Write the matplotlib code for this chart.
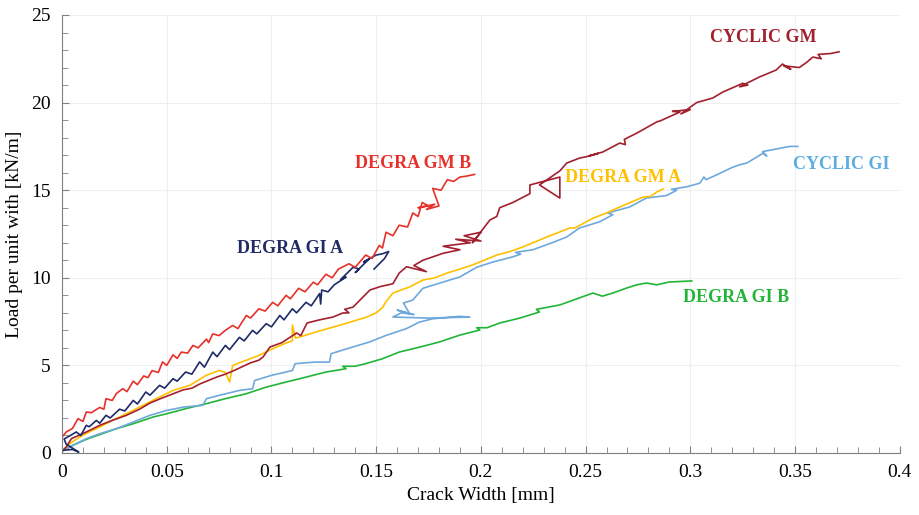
import numpy as np
import matplotlib
matplotlib.use("Agg")
import matplotlib.pyplot as plt
from matplotlib.ticker import MultipleLocator, FormatStrFormatter

plt.rcParams['font.family'] = ['Liberation Serif', 'DejaVu Serif']

# crack width [mm] / load per unit width [kN/m]
gmb_x = [0, 0.002, 0.005, 0.0076, 0.010, 0.0116, 0.014, 0.018, 0.020, 0.021, 0.024, 0.026, 0.029,
         0.031, 0.034, 0.036, 0.039, 0.041, 0.043, 0.046, 0.048, 0.050, 0.053, 0.055, 0.057, 0.060,
         0.0625, 0.065, 0.069, 0.070, 0.072, 0.075, 0.078, 0.0815, 0.084, 0.088, 0.090, 0.094, 0.097,
         0.1006, 0.103, 0.107, 0.109, 0.113, 0.116, 0.120, 0.122, 0.126, 0.129, 0.132, 0.137, 0.140,
         0.145, 0.148, 0.1515, 0.153, 0.1547, 0.158, 0.161, 0.165, 0.1675, 0.170, 0.172, 0.175, 0.170,
         0.178, 0.174, 0.180, 0.177, 0.181, 0.184, 0.187, 0.190, 0.193, 0.197]
gmb_y = [0.9, 1.2, 1.4, 1.96, 1.8, 2.34, 2.3, 2.6, 2.5, 3.1, 3.0, 3.4, 3.67,
         3.5, 4.1, 3.9, 4.4, 4.3, 4.7, 4.6, 5.2, 5.0, 5.6, 5.4, 5.76, 5.7,
         6.14, 6.0, 6.5, 6.3, 6.8, 6.7, 7.0, 7.28, 7.1, 7.85, 7.7, 8.23, 8.1,
         8.6, 8.4, 9.0, 8.8, 9.4, 9.2, 9.75, 9.6, 10.2, 10.0, 10.5, 10.8, 10.6,
         11.3, 11.1, 11.85, 11.7, 12.6, 12.4, 13.0, 12.9, 13.7, 13.5, 14.3, 14.1, 14.0,
         14.2, 13.9, 14.1, 15.1, 15.0, 15.6, 15.5, 15.75, 15.8, 15.9]

gia_x = [0, 0.005, 0.008, 0.002, 0.001, 0.004, 0.0068, 0.009, 0.0116, 0.013, 0.0164, 0.018, 0.021,
         0.023, 0.0275, 0.030, 0.034, 0.036, 0.040, 0.042, 0.0466, 0.049, 0.053, 0.055, 0.059, 0.062,
         0.0657, 0.068, 0.072, 0.074, 0.078, 0.080, 0.0847, 0.087, 0.091, 0.093, 0.0975, 0.100, 0.104,
         0.106, 0.110, 0.112, 0.1165, 0.119, 0.123, 0.1235, 0.124, 0.127, 0.130, 0.1356, 0.133, 0.139,
         0.142, 0.140, 0.1467, 0.144, 0.150, 0.153, 0.156, 0.154, 0.149]
gia_y = [0.15, 0.2, 0.05, 0.5, 0.8, 1.0, 1.2, 1.0, 1.58, 1.5, 1.86, 1.7, 2.15,
         2.0, 2.5, 2.4, 3.0, 2.8, 3.48, 3.3, 3.86, 3.7, 4.24, 4.1, 4.62, 4.5,
         5.2, 4.9, 5.76, 5.5, 6.14, 5.9, 6.6, 6.4, 7.0, 6.8, 7.38, 7.2, 7.85,
         7.6, 8.23, 8.0, 8.6, 8.4, 9.1, 8.5, 9.3, 9.2, 9.6, 10.04, 9.9, 10.6,
         10.5, 10.3, 11.08, 10.9, 11.3, 11.37, 11.5, 11.1, 10.5]

cgm_x = [0, 0.002, 0.0045, 0.0116, 0.018, 0.024, 0.0307, 0.037, 0.042, 0.047,
         0.0578, 0.062, 0.066, 0.074, 0.078, 0.082, 0.0897, 0.094, 0.096, 0.0993,
         0.105, 0.112, 0.114, 0.117, 0.123, 0.1294, 0.134, 0.137, 0.135, 0.139,
         0.147, 0.152, 0.158, 0.161, 0.1645, 0.174, 0.168, 0.1723, 0.182, 0.19,
         0.182, 0.195, 0.188, 0.2, 0.192, 0.2, 0.196, 0.2043, 0.2076, 0.209,
         0.2153, 0.2234, 0.2234, 0.2377, 0.2377, 0.228, 0.2377, 0.241, 0.2473, 0.250,
         0.256, 0.2515, 0.2582, 0.2663, 0.2690, 0.2685, 0.2745, 0.284, 0.2855, 0.295,
         0.2915, 0.300, 0.2955, 0.303, 0.3107, 0.3155, 0.325, 0.3275, 0.3235, 0.333,
         0.341, 0.344, 0.348, 0.3445, 0.352, 0.3556, 0.3585, 0.3625, 0.361, 0.367,
         0.371]
cgm_y = [0.1, 0.34, 0.82, 1.2, 1.58, 1.86, 2.15, 2.5, 2.85, 3.1,
         3.6, 3.7, 3.95, 4.34, 4.5, 4.7, 5.13, 5.3, 5.48, 6.05,
         6.3, 6.85, 6.7, 7.42, 7.6, 7.76, 7.99, 8.0, 8.2, 8.33,
         9.3, 9.5, 9.66, 10.27, 10.63, 10.35, 10.7, 11.0, 11.4, 11.6,
         11.8, 12.0, 12.2, 12.1, 12.4, 12.6, 12.0, 13.3, 13.5, 14.0,
         14.3, 14.8, 15.3, 15.75, 14.55, 15.3, 16.1, 16.55, 16.84, 16.9,
         17.1, 16.95, 17.18, 17.69, 17.6, 17.9, 18.26, 18.9, 18.95, 19.46,
         19.5, 19.6, 19.35, 20.0, 20.26, 20.6, 21.1, 21.0, 20.9, 21.46,
         21.86, 22.2, 21.9, 22.1, 22.0, 22.3, 22.6, 22.5, 22.75, 22.8,
         22.9]

gma_x = [0, 0.0037, 0.0084, 0.013, 0.018, 0.024, 0.0307, 0.037, 0.045, 0.053,
         0.061, 0.0688, 0.075, 0.078, 0.080, 0.0815, 0.0879, 0.094, 0.1006, 0.107,
         0.110, 0.110, 0.1115, 0.113, 0.121, 0.129, 0.137, 0.145, 0.150, 0.153,
         0.1545, 0.158, 0.166, 0.1723, 0.178, 0.1838, 0.190, 0.196, 0.2076, 0.214,
         0.22, 0.2315, 0.2425, 0.245, 0.2535, 0.260, 0.2663, 0.2773, 0.281, 0.284,
         0.287]
gma_y = [0.1, 0.53, 0.91, 1.2, 1.48, 1.86, 2.24, 2.62, 3.1, 3.57,
         3.86, 4.43, 4.71, 4.6, 4.05, 5.0, 5.29, 5.57, 5.95, 6.28,
         6.4, 7.3, 6.56, 6.6, 6.9, 7.17, 7.45, 7.74, 8.0, 8.3,
         8.6, 9.13, 9.48, 9.87, 10.0, 10.27, 10.5, 10.73, 11.3, 11.5,
         11.76, 12.33, 12.84, 12.85, 13.4, 13.7, 14.04, 14.6, 14.65, 14.9,
         15.07]

cgi_x = [0, 0.0052, 0.0116, 0.018, 0.026, 0.034, 0.042, 0.05, 0.058, 0.0672, 0.069, 0.075, 0.0847,
         0.091, 0.092, 0.1, 0.11, 0.1113, 0.121, 0.1277, 0.1285, 0.1388, 0.1467, 0.1547, 0.1643,
         0.1706, 0.177, 0.1897, 0.1947, 0.175, 0.158, 0.162, 0.168, 0.160, 0.166, 0.163, 0.1675,
         0.1723, 0.1804, 0.19, 0.198, 0.2057, 0.2153, 0.219, 0.2165, 0.2248, 0.234, 0.241, 0.247,
         0.2568, 0.263, 0.2605, 0.271, 0.279, 0.2888, 0.2935, 0.291, 0.2985, 0.3045, 0.3065, 0.3075,
         0.313, 0.32, 0.3235, 0.327, 0.3346, 0.3365, 0.3345, 0.3475, 0.3513]
cgi_y = [0.1, 0.44, 0.82, 1.1, 1.39, 1.77, 2.15, 2.43, 2.62, 2.72, 3.1, 3.29, 3.57,
         3.67, 4.14, 4.43, 4.71, 5.1, 5.19, 5.19, 5.67, 6.05, 6.33, 6.71, 7.09,
         7.47, 7.66, 7.8, 7.76, 7.7, 7.76, 8.0, 7.9, 8.16, 7.95, 8.56, 8.73,
         9.4, 9.7, 10.05, 10.6, 10.9, 11.2, 11.35, 11.45, 11.6, 12.0, 12.33, 12.84,
         13.2, 13.6, 13.7, 14.04, 14.55, 14.7, 15.0, 15.05, 15.2, 15.4, 15.75, 15.6,
         15.9, 16.3, 16.45, 16.55, 17.1, 16.95, 17.2, 17.5, 17.5]

gib_x = [0, 0.0052, 0.0116, 0.018, 0.026, 0.034, 0.0434, 0.05, 0.059, 0.0688, 0.078, 0.0879, 0.0975,
         0.107, 0.1165, 0.126, 0.1356, 0.134, 0.14, 0.145, 0.153, 0.161, 0.171, 0.18, 0.19, 0.1995,
         0.198, 0.203, 0.209, 0.2186, 0.228, 0.2265, 0.2377, 0.247, 0.2535, 0.258, 0.263, 0.2697,
         0.2745, 0.279, 0.284, 0.29, 0.3007]
gib_y = [0.1, 0.44, 0.78, 1.05, 1.39, 1.67, 2.05, 2.24, 2.53, 2.81, 3.1, 3.38, 3.76,
         4.05, 4.33, 4.62, 4.81, 4.95, 4.95, 5.1, 5.38, 5.76, 6.05, 6.33, 6.73, 7.02,
         7.15, 7.15, 7.42, 7.7, 8.05, 8.2, 8.45, 8.85, 9.13, 8.95, 9.13, 9.42,
         9.6, 9.7, 9.6, 9.76, 9.82]

series = [
    (gib_x, gib_y, '#21B537'),
    (cgi_x, cgi_y, '#6FA8DC'),
    (gma_x, gma_y, '#FFC000'),
    (cgm_x, cgm_y, '#A3202F'),
    (gia_x, gia_y, '#1F2A66'),
    (gmb_x, gmb_y, '#E8302A'),
]

labels = [
    ('DEGRA GM B', 0.1675, 16.55, '#E8302A'),
    ('DEGRA GI A', 0.109, 11.7, '#1F2A66'),
    ('CYCLIC GM', 0.3346, 23.7, '#A3202F'),
    ('DEGRA GM A', 0.268, 15.75, '#FFC000'),
    ('CYCLIC GI', 0.372, 16.44, '#5DADE2'),
    ('DEGRA GI B', 0.3217, 8.9, '#21B537'),
]

fig = plt.figure(figsize=(9.2, 5.15), dpi=100)
ax = fig.add_axes([0.0674, 0.1204, 0.9106, 0.8505])

for xs, ys, col in series:
    ax.plot(xs, ys, color=col, lw=1.2)

for txt, lx, ly, col in labels:
    ax.text(lx, ly, txt, color=col, fontsize=13, fontweight='bold', ha='center', va='center')

ax.set_xlim(0, 0.4)
ax.set_ylim(0, 25)
ax.xaxis.set_major_locator(MultipleLocator(0.05))
ax.xaxis.set_minor_locator(MultipleLocator(0.01))
ax.yaxis.set_major_locator(MultipleLocator(5))
ax.yaxis.set_minor_locator(MultipleLocator(1))
ax.xaxis.set_major_formatter(FormatStrFormatter('%g'))
ax.grid(True, which='major', color='#EFEFEF', lw=0.8)
ax.set_axisbelow(True)
for s in ['top', 'right']:
    ax.spines[s].set_visible(False)
for s in ['left', 'bottom']:
    ax.spines[s].set_color('#808080')
ax.tick_params(which='both', direction='in', color='#808080', labelsize=14, pad=8)
ax.tick_params(which='major', length=5)
ax.tick_params(which='minor', length=4)
ax.set_xlabel('Crack Width [mm]', fontsize=14, labelpad=4)
ax.set_ylabel('Load per unit with [kN/m]', fontsize=14, labelpad=6)

fig.savefig('out.png', dpi=100)
